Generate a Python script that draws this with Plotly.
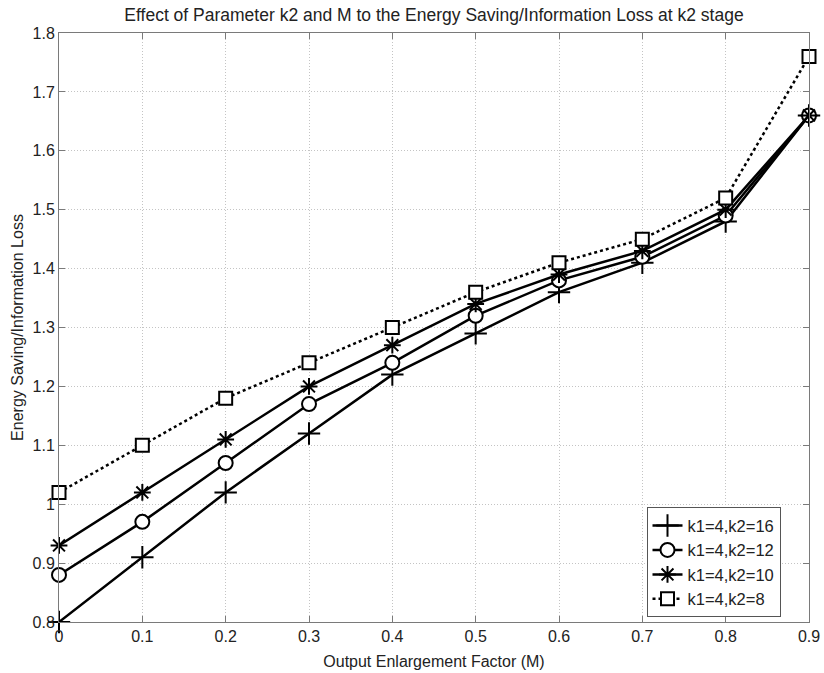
import plotly.graph_objects as go

# output enlargement factor M
m_vals = [0, 0.1, 0.2, 0.3, 0.4, 0.5, 0.6, 0.7, 0.8, 0.9]

k2_16 = [0.80, 0.91, 1.02, 1.12, 1.22, 1.29, 1.36, 1.41, 1.48, 1.66]
k2_12 = [0.88, 0.97, 1.07, 1.17, 1.24, 1.32, 1.38, 1.42, 1.49, 1.66]
k2_10 = [0.93, 1.02, 1.11, 1.20, 1.27, 1.34, 1.39, 1.43, 1.50, 1.66]
k2_8 = [1.02, 1.10, 1.18, 1.24, 1.30, 1.36, 1.41, 1.45, 1.52, 1.76]

y_ticks = [0.8, 0.9, 1.0, 1.1, 1.2, 1.3, 1.4, 1.5, 1.6, 1.7, 1.8]
y_tick_text = ["0.8", "0.9", "1", "1.1", "1.2", "1.3", "1.4", "1.5", "1.6", "1.7", "1.8"]
x_ticks = [0, 0.1, 0.2, 0.3, 0.4, 0.5, 0.6, 0.7, 0.8, 0.9]
x_tick_text = ["0", "0.1", "0.2", "0.3", "0.4", "0.5", "0.6", "0.7", "0.8", "0.9"]

FONT = "Liberation Sans, Arial, sans-serif"
GRID = "#c4c4c4"
AXIS = "#7a7a7a"

series = [
    ("k1=4,k2=16", k2_16, "cross-thin", 16, "solid", 2.5),
    ("k1=4,k2=12", k2_12, "circle", 14, "solid", 2.5),
    ("k1=4,k2=10", k2_10, "asterisk", 14, "solid", 2.5),
    ("k1=4,k2=8", k2_8, "square", 13, "dot", 2.5),
]

fig = go.Figure()
for name, vals, sym, size, dash, lw in series:
    fig.add_trace(go.Scatter(
        x=m_vals, y=vals, name=name, mode="lines+markers",
        line=dict(color="black", width=lw, dash=dash),
        marker=dict(symbol=sym, size=size, color="white",
                    line=dict(color="black", width=2)),
        cliponaxis=False,
    ))

axis_common = dict(
    showline=True, linecolor=AXIS, linewidth=1, mirror="ticks",
    ticks="inside", ticklen=6, tickcolor=AXIS,
    showgrid=True, gridcolor=GRID, griddash="1px,2px", gridwidth=1,
    zeroline=False, tickfont=dict(size=16, color="#222"),
    automargin=False,
)

fig.update_layout(
    width=824, height=673,
    paper_bgcolor="white", plot_bgcolor="white",
    font=dict(family=FONT, size=16, color="#222"),
    margin=dict(l=59, r=15, t=33, b=51),
    title=dict(text="Effect of Parameter k2 and M to the Energy Saving/Information Loss at k2 stage",
               x=0.5, xref="paper", xanchor="center", y=0.978, yanchor="middle",
               font=dict(size=17.5, color="#222")),
    xaxis=dict(range=[0, 0.9], tickvals=x_ticks, ticktext=x_tick_text,
               title=dict(text="Output Enlargement Factor (M)", standoff=11,
                          font=dict(size=16)),
               **axis_common),
    yaxis=dict(range=[0.8, 1.8], tickvals=y_ticks, ticktext=y_tick_text,
               title=dict(text="Energy Saving/Information Loss", standoff=4,
                          font=dict(size=16)),
               **axis_common),
    legend=dict(x=0.962, y=0.008, xanchor="right", yanchor="bottom",
                bgcolor="white", bordercolor="#555", borderwidth=1,
                font=dict(size=16.5, color="#222"), tracegroupgap=0,
                itemwidth=30),
    showlegend=True,
)

# drop the default page margin so the figure fills the window exactly
fig.write_html("out.html", config={"displayModeBar": False},
               post_script="document.body.style.margin='0';document.body.style.overflow='hidden';")
